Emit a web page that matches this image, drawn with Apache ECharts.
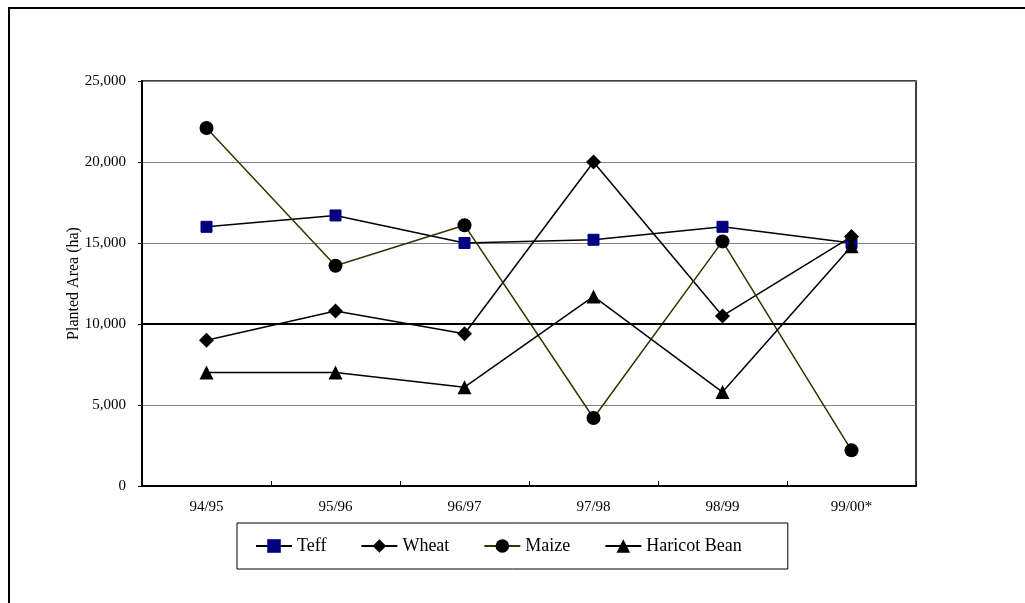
<!DOCTYPE html>
<html>
<head>
<meta charset="utf-8">
<script src="https://cdn.jsdelivr.net/npm/echarts@6/dist/echarts.min.js"></script>
<style>
html,body{margin:0;padding:0;background:#fff;}
#chart{width:1025px;height:603px;}
</style>
</head>
<body>
<div id="chart"></div>
<script>
const categories = ['94/95', '95/96', '96/97', '97/98', '98/99', '99/00*'];
const teff = [16000, 16700, 15000, 15200, 16000, 15000];
const wheat = [9000, 10800, 9400, 20000, 10500, 15400];
const maize = [22100, 13600, 16100, 4200, 15100, 2200];
const haricotBean = [7000, 7000, 6100, 11700, 5800, 14800];
const seriesNames = ['Teff', 'Wheat', 'Maize', 'Haricot Bean'];
const yTicks = [0, 5000, 10000, 15000, 20000, 25000];
const emphasisLine = [10000];
const yAxisTitle = 'Planted Area (ha)';

const FONT = '"Liberation Serif", "Times New Roman", serif';
const chart = echarts.init(document.getElementById('chart'), null, {renderer: 'canvas'});

chart.setOption({
  animation: false,
  backgroundColor: '#ffffff',
  graphic: [{
    type: 'rect',
    shape: {x: 9, y: 8, width: 1100, height: 700},
    style: {fill: 'none', stroke: '#000', lineWidth: 2},
    silent: true, z: -1
  }],
  grid: {left: 142, top: 81, right: 109, bottom: 117, show: true, borderColor: '#000', borderWidth: 1.5, backgroundColor: 'transparent'},
  legend: {
    left: 237, top: 523,
    padding: [14, 46, 14, 18],
    itemWidth: 36, itemHeight: 17, itemGap: 34,
    borderColor: '#000', borderWidth: 1,
    textStyle: {fontFamily: FONT, fontSize: 18, color: '#000'},
    data: seriesNames
  },
  xAxis: {
    type: 'category',
    data: categories,
    boundaryGap: true,
    axisLine: {lineStyle: {color: '#000', width: 2}},
    axisTick: {show: true, inside: true, length: 5, lineStyle: {color: '#000', width: 1}},
    axisLabel: {fontFamily: FONT, fontSize: 15, color: '#000', margin: 14},
    splitLine: {show: false}
  },
  yAxis: {
    type: 'value',
    min: yTicks[0], max: yTicks[yTicks.length - 1], interval: yTicks[1] - yTicks[0],
    name: yAxisTitle,
    nameLocation: 'middle',
    nameGap: 60,
    nameRotate: 90,
    nameMoveOverlap: false,
    nameTextStyle: {fontFamily: FONT, fontSize: 16, color: '#000'},
    axisLine: {show: true, lineStyle: {color: '#000', width: 2}},
    axisTick: {show: true, length: 4, lineStyle: {color: '#000'}},
    axisLabel: {fontFamily: FONT, fontSize: 15, color: '#000', margin: 16,
      formatter: v => v.toLocaleString('en-US')},
    splitLine: {show: true, lineStyle: {color: '#808080', width: 1}}
  },
  series: [
    {
      name: seriesNames[0], type: 'line', data: teff,
      symbol: 'rect', symbolSize: 11,
      itemStyle: {color: '#000080', borderColor: '#000080'},
      lineStyle: {color: '#000', width: 1.5},
      markLine: {
        silent: true, symbol: 'none', label: {show: false},
        lineStyle: {color: '#000', width: 2, type: 'solid'},
        data: emphasisLine.map(v => ({yAxis: v}))
      }
    },
    {
      name: seriesNames[1], type: 'line', data: wheat,
      symbol: 'diamond', symbolSize: 15,
      itemStyle: {color: '#000'},
      lineStyle: {color: '#000', width: 1.5}
    },
    {
      name: seriesNames[2], type: 'line', data: maize,
      symbol: 'circle', symbolSize: 14,
      itemStyle: {color: '#000'},
      lineStyle: {color: '#333300', width: 1.5}
    },
    {
      name: seriesNames[3], type: 'line', data: haricotBean,
      symbol: 'triangle', symbolSize: 14,
      itemStyle: {color: '#000'},
      lineStyle: {color: '#000', width: 1.5}
    }
  ]
});
</script>
</body>
</html>
